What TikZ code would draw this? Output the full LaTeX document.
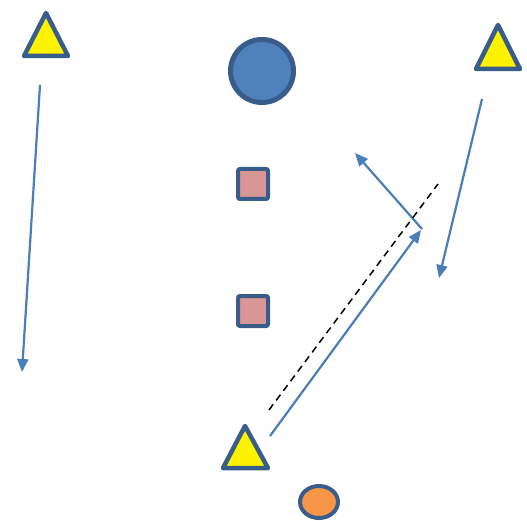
\documentclass[tikz,border=0pt]{standalone}
\usetikzlibrary{arrows.meta}
\definecolor{edgeblue}{HTML}{385D8A}
\definecolor{fillblue}{HTML}{4F81BD}
\definecolor{arrowblue}{HTML}{4A7EBB}
\definecolor{rosefill}{HTML}{D99694}
\definecolor{orangefill}{HTML}{F79646}
\begin{document}
\begin{tikzpicture}[x=1pt,y=-1pt,
  cone/.style={draw=edgeblue,fill=yellow,line width=4.5pt,line join=round},
  marker/.style={draw=edgeblue,line width=4.5pt},
  run/.style={draw=arrowblue,line width=2.2pt,-{Triangle[length=13pt,width=11pt]}},
  passline/.style={draw=black,line width=1.5pt,dash pattern=on 7pt off 5pt}]
\useasboundingbox (0,0) rectangle (527,521);
% cones
\draw[cone] (46,13) -- (68,56) -- (24,56) -- cycle;
\draw[cone] (498,25) -- (520,69) -- (476,69) -- cycle;
\draw[cone] (245,426) -- (268,468) -- (223,468) -- cycle;
% ball and players
\draw[marker,line width=5pt,fill=fillblue] (262,71) circle (31.5);
\draw[marker,line width=4pt,fill=rosefill,rounded corners=2pt] (238,169) rectangle (268,199);
\draw[marker,line width=4pt,fill=rosefill,rounded corners=2pt] (238,296) rectangle (268,326);
\draw[marker,line width=4pt,fill=orangefill] (319,502) ellipse (19 and 16);
% run end points
\coordinate (a1) at (40,85);
\coordinate (a2) at (22,372);
\coordinate (b1) at (482,99);
\coordinate (b2) at (439,278);
\coordinate (c1) at (270,436);
\coordinate (c2) at (421,230);
\coordinate (d1) at (422,229);
\coordinate (d2) at (355,153);
\coordinate (p1) at (269,410);
\coordinate (p2) at (438,184);
% runs and pass
\draw[run] (a1) -- (a2);
\draw[run] (b1) -- (b2);
\draw[run] (c1) -- (c2);
\draw[run] (d1) -- (d2);
\draw[passline] (p1) -- (p2);
\end{tikzpicture}
\end{document}
